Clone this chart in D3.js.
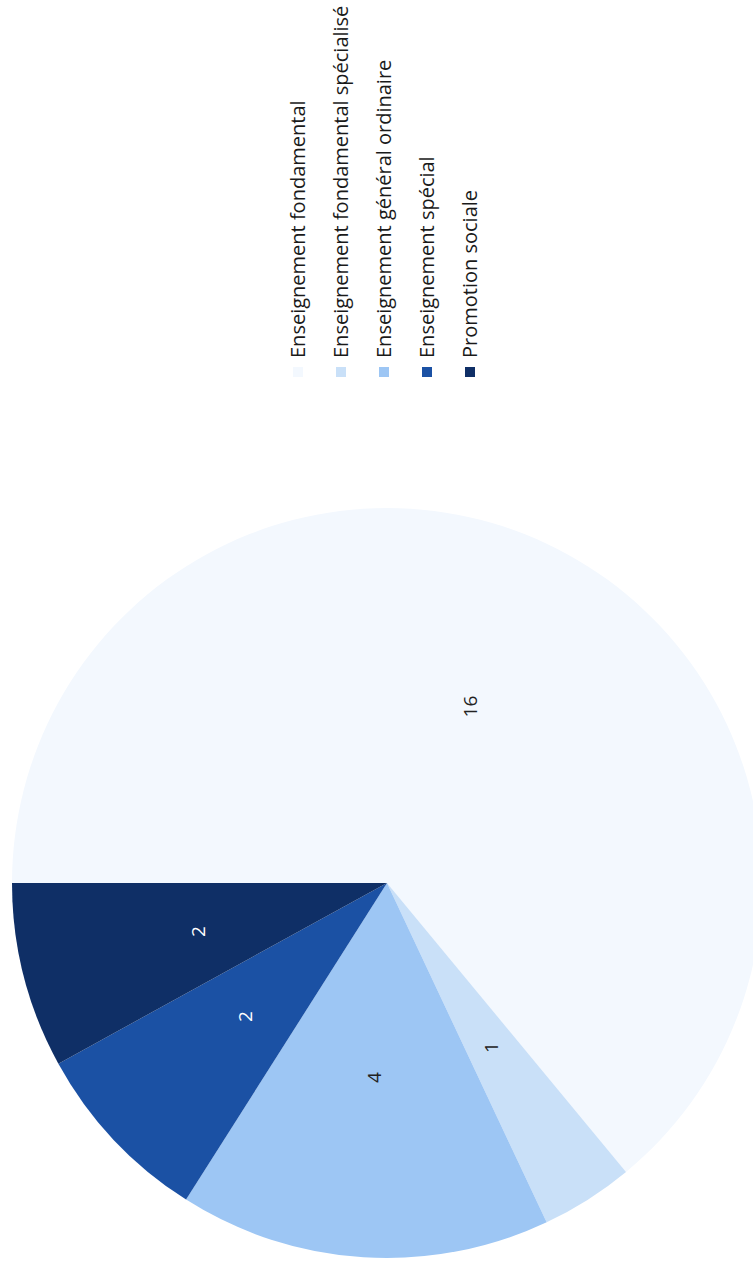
<!DOCTYPE html>
<html>
<head>
<meta charset="utf-8">
<script src="https://cdn.jsdelivr.net/npm/d3@7"></script>
<style>
  html, body { margin: 0; padding: 0; background: #fff; }
  svg { display: block; }
</style>
</head>
<body>
<div id="chart"></div>
<script>
// Répartition par type d'enseignement
const categories = [
  "Enseignement fondamental",
  "Enseignement fondamental spécialisé",
  "Enseignement général ordinaire",
  "Enseignement spécial",
  "Promotion sociale"
];
const values = [16, 1, 4, 2, 2];
const colors = ["#f3f8fe", "#c9e0f8", "#9dc6f4", "#1b51a4", "#0f2f66"];
const labelColors = ["#222", "#222", "#222", "#fff", "#fff"];

const W = 753, H = 1268;
const svg = d3.select("#chart").append("svg")
  .attr("width", W).attr("height", H);

// The page is laid out sideways: draw in a landscape frame, then turn it a quarter turn.
const frame = svg.append("g")
  .attr("transform", `translate(0,${H}) rotate(-90)`);

const cx = 385, cy = 387, R = 375;

const data = categories.map((c, i) => ({ name: c, value: values[i], i }));

const pie = d3.pie().sort(null).value(d => d.value);
const arcs = pie(data);

const arc = d3.arc().innerRadius(0).outerRadius(R);
const labelArc = d3.arc().innerRadius(R * 0.52).outerRadius(R * 0.52);

const g = frame.append("g").attr("transform", `translate(${cx},${cy})`);

g.selectAll("path.slice")
  .data(arcs)
  .join("path")
  .attr("class", "slice")
  .attr("d", arc)
  .attr("fill", d => colors[d.data.i]);

g.selectAll("text.val")
  .data(arcs)
  .join("text")
  .attr("class", "val")
  .attr("transform", d => `translate(${labelArc.centroid(d)})`)
  .attr("text-anchor", "middle")
  .attr("dy", "0.35em")
  .attr("font-family", "'Open Sans', sans-serif")
  .attr("font-size", 19)
  .attr("fill", d => labelColors[d.data.i])
  .text(d => d.data.value);

// Legend
const legendX = 896, legendY0 = 298, legendStep = 43;
const legend = frame.append("g");
const items = legend.selectAll("g.item")
  .data(data)
  .join("g")
  .attr("class", "item")
  .attr("transform", (d, i) => `translate(${legendX},${legendY0 + i * legendStep})`);

items.append("rect")
  .attr("x", -5).attr("y", -5)
  .attr("width", 10).attr("height", 10)
  .attr("fill", d => colors[d.i]);

items.append("text")
  .attr("x", 14)
  .attr("dy", "0.35em")
  .attr("font-family", "'Open Sans', sans-serif")
  .attr("font-size", 20)
  .attr("fill", "#1a1a1a")
  .text(d => d.name);
</script>
</body>
</html>
